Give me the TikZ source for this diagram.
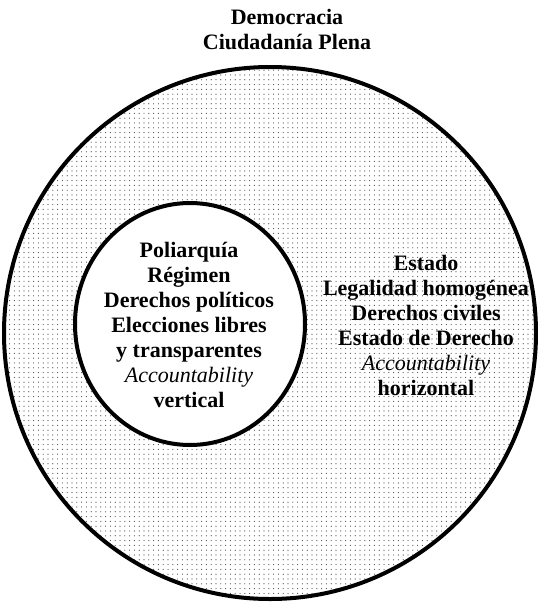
\documentclass[tikz,border=0pt]{standalone}
\usepackage{fontspec}
\setmainfont{Liberation Serif}
\usepackage{tikz}
\usetikzlibrary{patterns.meta,shapes.geometric}

\begin{document}
\begin{tikzpicture}[x=0.75pt,y=-0.75pt,
    font=\fontsize{16.5}{18.75}\selectfont\bfseries]
        \useasboundingbox (0,0) rectangle (538,603);
        \node[draw,circle,line width=3pt,minimum size=399pt,
              pattern={Dots[distance=3.6pt,radius=0.45pt]},pattern color=black!70] (demo) at (270,333) {};
        \node[draw,ellipse,line width=3pt,fill=white,
              minimum width=172.5pt,minimum height=181.5pt] (poli) at (190,324) {};
        \node[align=center] (demotxt) at (287,30) {Democracia\\Ciudadanía Plena};
        \node[align=center] (politxt) at (189,325)
            {Poliarquía\\Régimen\\Derechos políticos\\Elecciones libres\\y transparentes\\\textmd{\textit{Accountability}}\\vertical};
        \node[align=center] (estadotxt) at (426,325)
            {Estado\\Legalidad homogénea\\Derechos civiles\\Estado de Derecho\\\textmd{\textit{Accountability}}\\horizontal};
      \end{tikzpicture}
\end{document}
